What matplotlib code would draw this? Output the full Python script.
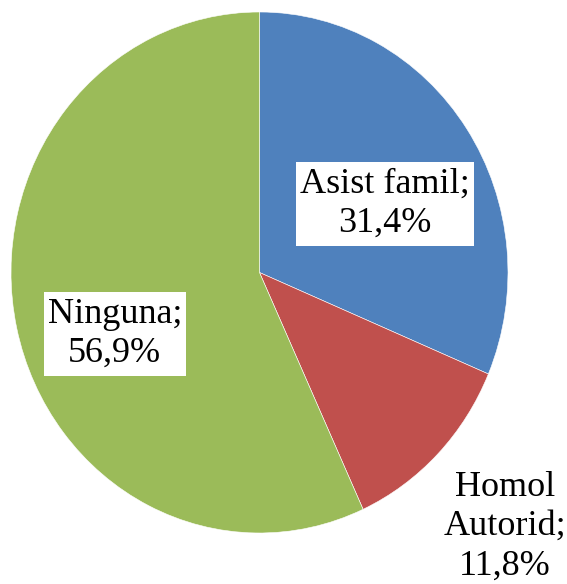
import matplotlib
matplotlib.use("Agg")
import matplotlib.pyplot as plt
from matplotlib.patches import Rectangle

# data
labels = ['Asist famil', 'Homol\nAutorid', 'Ninguna']
values = [31.4, 11.8, 56.9]
colors = ['#4F81BD', '#C0504D', '#9BBB59']

plt.rcParams['font.family'] = ['Liberation Serif', 'DejaVu Serif']

fig = plt.figure(figsize=(5.67, 5.84), dpi=100)
# pie is slightly stretched vertically in the original
ax = fig.add_axes([11/567, 51/584, 497/567, 521/584])
wedges, _ = ax.pie(values, colors=colors, startangle=90, counterclock=False,
                   radius=1, wedgeprops=dict(linewidth=0.4, edgecolor='white'))
ax.set_xlim(-1, 1)
ax.set_ylim(-1, 1)
ax.set_aspect('auto')

# label positions (axes data units)
pos = [(0.505, 0.263), (0.988, -0.975), (-0.582, -0.236)]
boxed = [True, False, True]
texts = []
for lab, v, (x, y) in zip(labels, values, pos):
    txt = f"{lab};\n{v:.1f}%".replace('.', ',')
    t = ax.text(x, y, txt, ha='center', va='center', fontsize=26,
                linespacing=1.25, clip_on=False, zorder=5)
    texts.append(t)

# white boxes behind the inner labels
fig.canvas.draw()
r = fig.canvas.get_renderer()
inv = ax.transData.inverted()
for t, b in zip(texts, boxed):
    if not b:
        continue
    bb = t.get_window_extent(r)
    padx, pady = 4, 6
    (x0, y0) = inv.transform((bb.x0 - padx, bb.y0 - pady))
    (x1, y1) = inv.transform((bb.x1 + padx, bb.y1 + pady))
    ax.add_patch(Rectangle((x0, y0), x1 - x0, y1 - y0, fc='white', ec='none',
                           zorder=4, clip_on=False))

fig.savefig('out.png', dpi=100)
